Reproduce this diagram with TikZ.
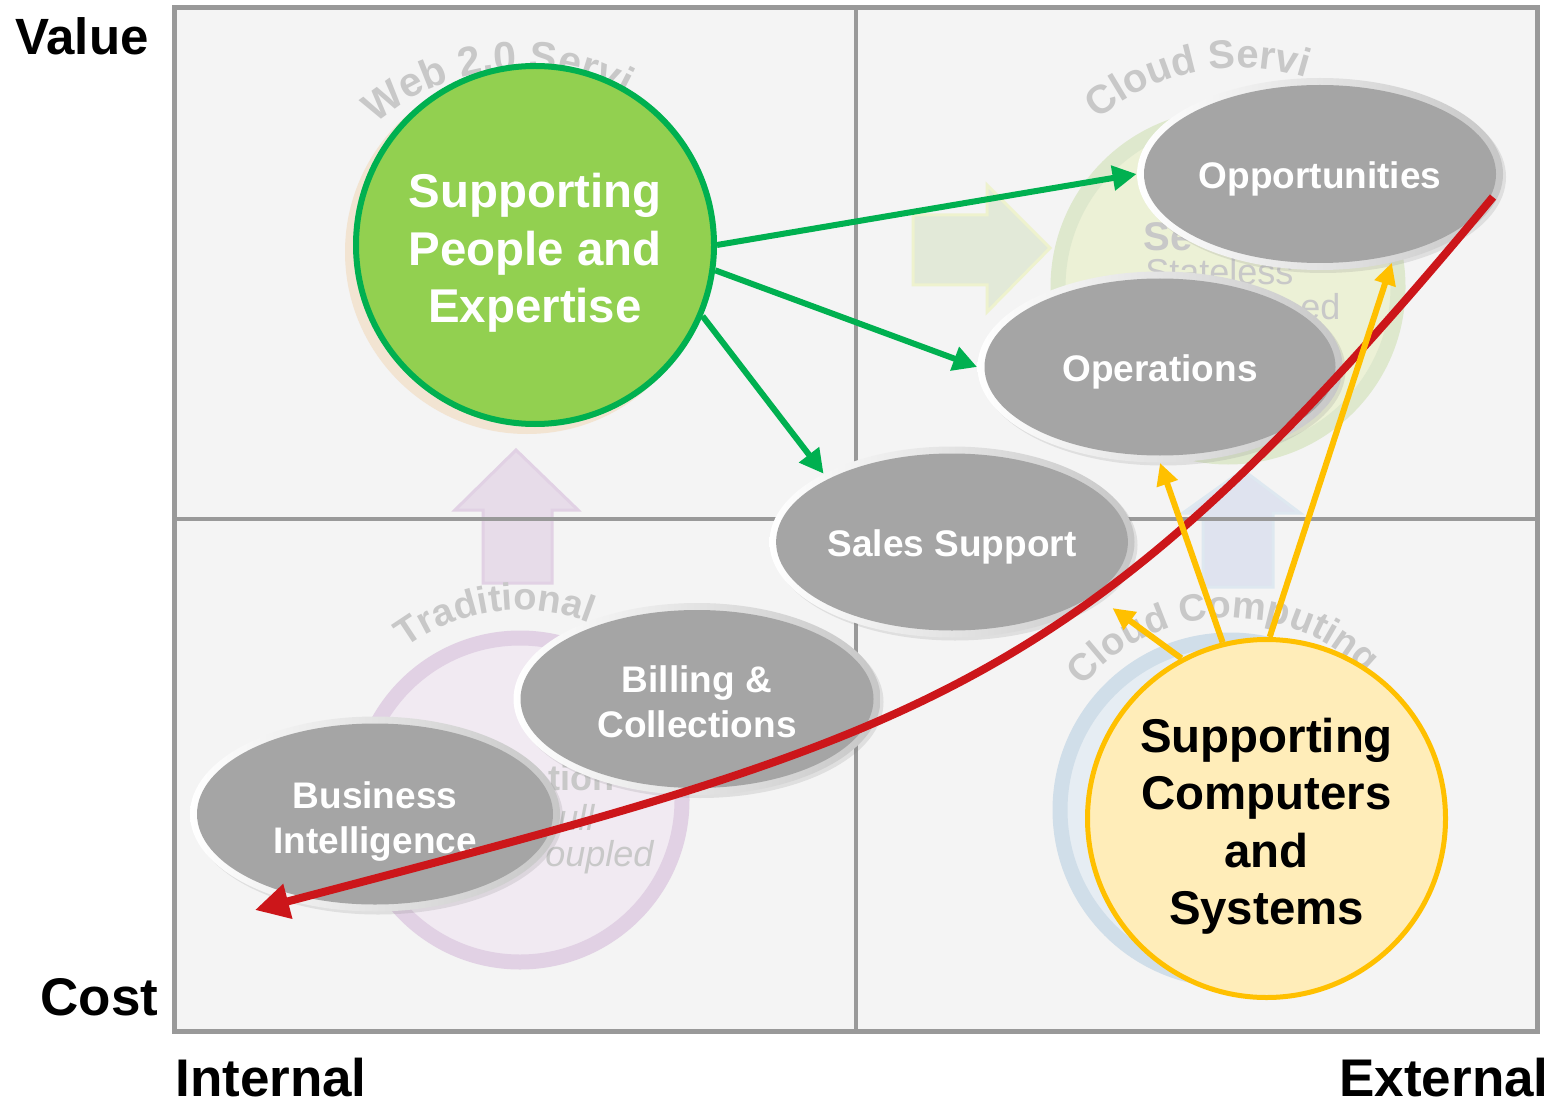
\documentclass[tikz,border=0pt]{standalone}
\usepackage{fontspec}
\setmainfont{Liberation Sans}
\usetikzlibrary{shapes.geometric,arrows.meta,decorations.text,shadows}
\definecolor{framegray}{RGB}{153,153,153}
\definecolor{panel}{RGB}{244,244,244}
\definecolor{ovalgray}{RGB}{165,165,165}
\definecolor{gfill}{RGB}{146,208,80}
\definecolor{gline}{RGB}{0,176,80}
\definecolor{yfill}{RGB}{255,237,185}
\definecolor{yline}{RGB}{255,192,0}
\definecolor{redline}{RGB}{204,22,26}
\definecolor{fadetext}{RGB}{200,200,200}
\definecolor{peach}{RGB}{242,228,210}
\definecolor{purring}{RGB}{225,209,228}
\definecolor{purin}{RGB}{241,234,242}
\definecolor{purarrow}{RGB}{231,220,233}
\definecolor{bluring}{RGB}{208,222,233}
\definecolor{bluin}{RGB}{230,237,243}
\definecolor{bluarrow}{RGB}{223,227,239}
\definecolor{grnring}{RGB}{222,232,205}
\definecolor{grnin}{RGB}{236,241,214}
\definecolor{grnarrow}{RGB}{226,233,216}
\definecolor{grnarrowline}{RGB}{238,242,206}
\newcommand{\liftline}[1]{\rule{0pt}{#1}}
\begin{document}
\begin{tikzpicture}[x=0.5pt,y=-0.5pt,
  axislabel/.style={anchor=base, inner sep=0pt, font=\fontsize{26.5}{30}\selectfont\bfseries},
  rim/.style={ellipse, inner sep=0pt, left color=white, right color=black!22,
    drop shadow={shadow xshift=1.5pt, shadow yshift=-1.5pt, opacity=0.18}},
  oval/.style={ellipse, inner sep=0pt, fill=ovalgray, text=white, align=center,
    font=\fontsize{18.5}{22.5}\selectfont\bfseries},
  bigcircle/.style={circle, inner sep=0pt, minimum size=179pt, align=center,
    font=\fontsize{23.7}{28.7}\selectfont\bfseries},
  garrow/.style={draw=gline, line width=3pt, -{Triangle[length=12pt,width=12pt]}},
  yarrow/.style={draw=yline, line width=3pt, -{Triangle[length=11pt,width=10.5pt]}},
  rarrow/.style={draw=redline, line width=4pt, -{Triangle[length=17pt,width=17pt]}},
  fade/.style={text=fadetext, inner sep=0pt},
  fadearrow/.style={line width=1.5pt, line join=miter}
]
\useasboundingbox[fill=white] (0,0) rectangle (1550,1101);

% panel
\path[fill=panel] (174.5,7.5) rectangle (1537.5,1031);

% faded background rings
\path[fill=purin, draw=purring, line width=7.5pt] (520,800) circle[radius=81pt];
\path[fill=grnin, draw=grnring, line width=7.5pt] (1228,287) circle[radius=85pt];
\path[fill=bluin, draw=bluring, line width=7.5pt] (1230,810) circle[radius=85pt];

% faded background arrows
\path[fadearrow, fill=grnarrow, draw=grnarrowline] (913,215) -- (987,215) -- (987,185) -- (1050,248) -- (987,312) -- (987,285) -- (913,285) -- cycle;
\path[fadearrow, fill=purarrow, draw=purring] (516,450) -- (578,510) -- (552,510) -- (552,583) -- (483,583) -- (483,510) -- (455,510) -- cycle;
\path[fadearrow, fill=bluarrow, draw=bluring!70] (1243,470) -- (1300,513) -- (1273,513) -- (1273,587) -- (1203,587) -- (1203,513) -- (1183,513) -- cycle;

% faded arc texts
\path[decorate, decoration={text along path, text align=left,
  text={|\fontsize{20.5}{20}\selectfont\bfseries\color{fadetext}|Web 2.0 Servi}}]
  (520,290) ++(131:110pt) arc[start angle=131, end angle=55, radius=110pt];
\path[decorate, decoration={text along path, text align=left,
  text={|\fontsize{20}{20}\selectfont\bfseries\color{fadetext}|Cloud Servi}}]
  (1240,290) ++(130:111pt) arc[start angle=130, end angle=60, radius=111pt];
\path[decorate, decoration={text along path, text align=left,
  text={|\fontsize{19}{19}\selectfont\bfseries\color{fadetext}|Traditional}}]
  (520,800) ++(127:95pt) arc[start angle=127, end angle=50, radius=95pt];
\path[decorate, decoration={text along path, text align=left,
  text={|\fontsize{19}{19}\selectfont\bfseries\color{fadetext}|Cloud Computing}}]
  (1230,810) ++(140:96pt) arc[start angle=140, end angle=30, radius=96pt];

% faded text fragments
\node[fade, anchor=center, font=\fontsize{20}{20}\selectfont\bfseries] (frag-se) at (1168,237) {Se};
\node[fade, anchor=base west, font=\fontsize{18}{18}\selectfont] (frag-state) at (1145,285) {Stateless};
\node[fade, anchor=base west, font=\fontsize{18}{18}\selectfont] (frag-ed) at (1300,320) {ed};
\node[fade, anchor=base west, font=\fontsize{18}{18}\selectfont\bfseries] (frag-tion) at (548,790) {tion};
\node[fade, anchor=base west, font=\fontsize{18}{18}\selectfont\itshape] (frag-ull) at (558,830) {ull};
\node[fade, anchor=base west, font=\fontsize{18}{18}\selectfont\itshape] (frag-oupled) at (545,866) {oupled};

% quadrant lines and frame
\draw[framegray, line width=2pt] (856,7.5) -- (856,1031);
\draw[framegray, line width=2pt] (174.5,519) -- (1537.5,519);
\draw[framegray, line width=2.5pt] (174.5,7.5) rectangle (1537.5,1031);

% big circles
\node[circle, inner sep=0pt, minimum size=182pt, fill=peach] (gc-shadow) at (527,252) {};
\node[bigcircle, fill=gfill, draw=gline, line width=3pt, text=white] (gc) at (535,245) {\liftline{25pt}Supporting\\People and\\Expertise};
\node[bigcircle, fill=yfill, draw=yline, line width=2.5pt, text=black] (yc) at (1266.5,818.5) {\liftline{25pt}Supporting\\Computers\\and\\Systems};

% ovals
\node[rim, minimum width=185pt, minimum height=97.5pt] (bi-r) at (375,814) {};
\node[oval, minimum width=178pt, minimum height=90.5pt] (bi) at (375,814) {\liftline{20.5pt}Business\\Intelligence};
\node[rim, minimum width=183.5pt, minimum height=96pt] (bill-r) at (697,699) {};
\node[oval, minimum width=176.5pt, minimum height=89pt] (bill) at (697,699) {\liftline{16.5pt}Billing \&\\Collections};
\node[rim, minimum width=182.5pt, minimum height=95.5pt] (sales-r) at (952,542) {};
\node[oval, minimum width=175.5pt, minimum height=88.5pt] (sales) at (952,542) {\liftline{18.5pt}Sales Support};
\node[rim, minimum width=182.5pt, minimum height=95.5pt] (ops-r) at (1160,367) {};
\node[oval, minimum width=175.5pt, minimum height=88.5pt] (ops) at (1160,367) {\liftline{18.5pt}Operations};
\node[rim, minimum width=183pt, minimum height=96pt] (opp-r) at (1320,174) {};
\node[oval, minimum width=176pt, minimum height=89pt] (opp) at (1320,174) {\liftline{18.5pt}Opportunities};

% green arrows
\draw[garrow] (gc.east) -- (opp-r.west);
\draw[garrow] (gc.-8) -- (ops-r.west);
\draw[garrow] (gc.-23) -- (sales-r.152);

% red curve
\coordinate (rs) at (1493,197);
\coordinate (re) at (255,910);
\draw[rarrow] (rs) .. controls (1077,698) and (932,732) .. (re);

% yellow arrows
\draw[yarrow] (yc.104) -- (ops-r.south);
\draw[yarrow] (yc.89) -- (opp-r.-51);
\draw[yarrow, shorten >=8pt] (yc.118) -- (sales-r.-21);

% axis labels
\node[axislabel, font=\fontsize{25.5}{30}\selectfont\bfseries] (value) at (82,55) {Value};
\node[axislabel] (cost) at (99.5,1015) {Cost};
\node[axislabel] (internal) at (271,1096) {Internal};
\node[axislabel] (external) at (1444,1096) {External};
\end{tikzpicture}
\end{document}
